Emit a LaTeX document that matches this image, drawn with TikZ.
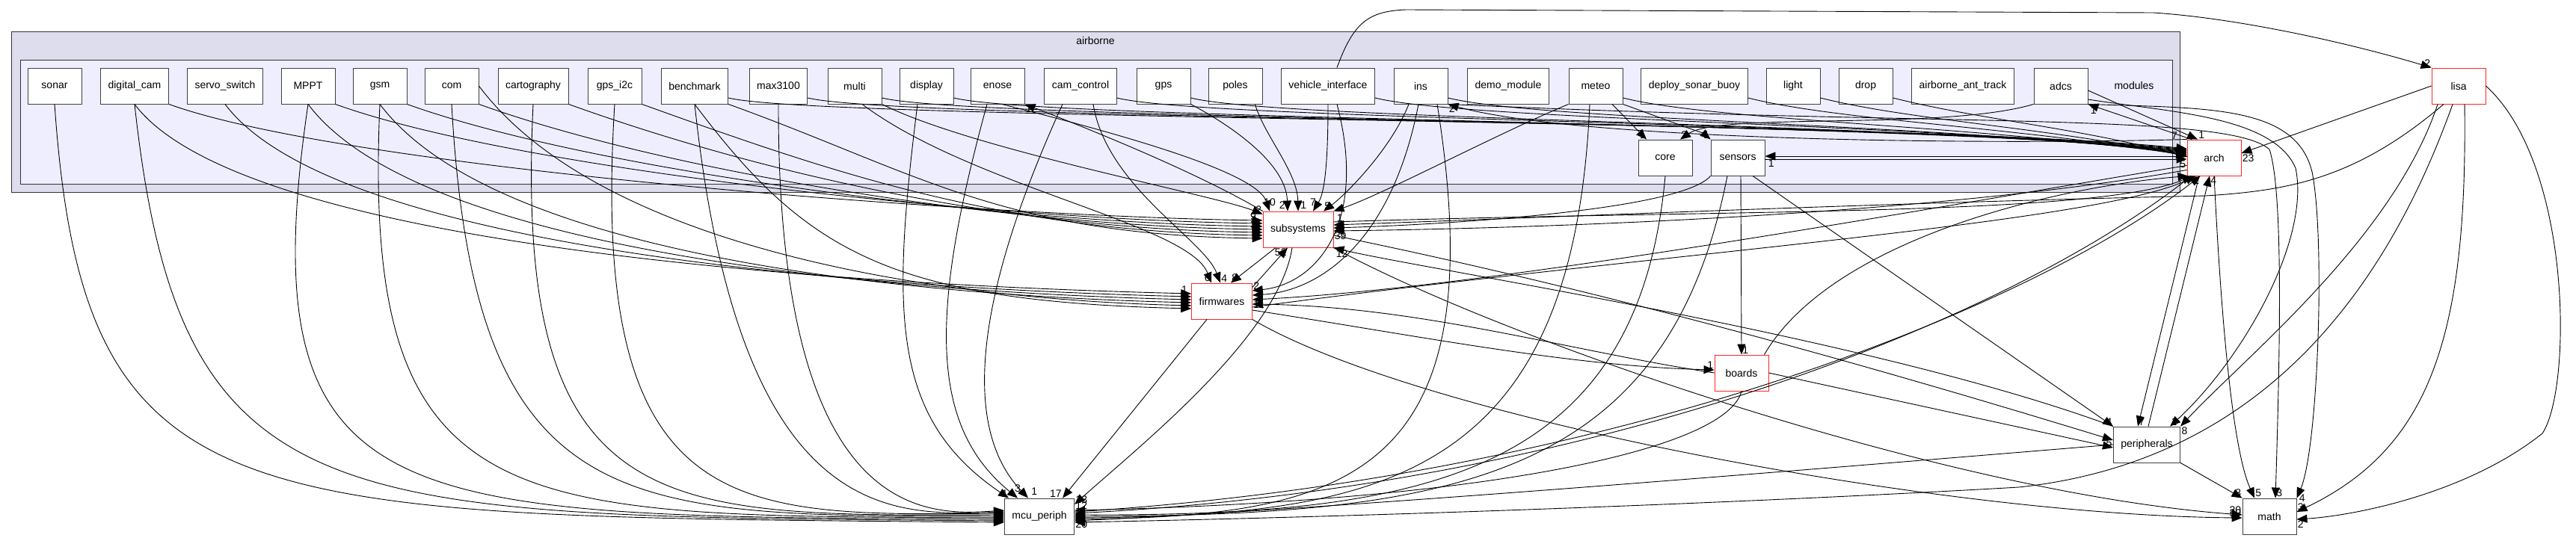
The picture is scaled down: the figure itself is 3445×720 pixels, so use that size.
\documentclass[tikz,border=0pt]{standalone}
\usepackage{fontspec}
\setmainfont{Liberation Sans}
\usetikzlibrary{arrows.meta}

\definecolor{outerfill}{HTML}{DDDDEE}
\definecolor{innerfill}{HTML}{EEEEFF}

\begin{document}
\begin{tikzpicture}[x=1pt,y=-1pt,
    dirbox/.style={draw=black!75,line width=0.9pt,fill=white,minimum width=72pt,
      minimum height=48pt,inner xsep=10pt,font=\fontsize{14}{16}\selectfont},
    redbox/.style={dirbox,draw=red!85},
    dep/.style={-{Triangle[length=14pt,width=11pt]},line width=0.9pt},
    lbl/.style={font=\fontsize{14}{16}\selectfont,inner sep=1pt}]
    \useasboundingbox (0,0) rectangle (3445,720);

    % clusters
    \draw[black!80,line width=1pt,fill=outerfill] (15,42) rectangle (2915,257);
    \node[lbl] (airborne) at (1465,54) {airborne};
    \draw[black!80,line width=1pt,fill=innerfill] (27,80) rectangle (2905,246);
    \node[lbl] (modules) at (2854,114) {modules};

    % module row
    \foreach \n/\x/\t in {sonar/73/sonar, digcam/180/digital\_cam, servo/301/servo\_switch,
        mppt/412/MPPT, gsm/508/gsm, com/604/com, carto/713/cartography, gpsi2c/822/gps\_i2c,
        bench/929/benchmark, max3100/1041/max3100, multi/1143/multi, display/1239/display,
        enose/1334/enose, camctl/1445/cam\_control, gps/1556/gps, poles/1652/poles,
        vehint/1776/vehicle\_interface, ins/1900/ins, demo/2017/demo\_module, meteo/2134/meteo,
        buoy/2266/deploy\_sonar\_buoy, light/2398/light, drop/2495/drop,
        anttrack/2625/airborne\_ant\_track, adcs/2756/adcs}
      \node[dirbox] (\n) at (\x,115) {\t};
    \node[dirbox] (core) at (2227,211) {core};
    \node[dirbox] (sensors) at (2324,211) {sensors};
    \node[redbox] (arch) at (2961,211) {arch};
    \node[redbox] (lisa) at (3288,115) {lisa};
    \node[redbox] (subsys) at (1736,307) {subsystems};
    \node[redbox] (firmw) at (1634,403) {firmwares};
    \node[redbox] (boards) at (2329,499) {boards};
    \node[dirbox] (periph) at (2871,595) {peripherals};
    \node[dirbox] (mcu) at (1390,691) {mcu\_periph};
    \node[dirbox] (math) at (3035,691) {math};

    % down the left side into mcu_periph
    \foreach \s/\v/\h in {sonar/112/-8pt, digcam/241/-6pt, mppt/330/-4pt, gsm/483/-2pt, com/635/0pt,
        carto/686/2pt, gpsi2c/787/4pt, bench/989/6pt, max3100/1040/8pt}
      \draw[dep] (\s.south) .. controls (\v,700) and (\v+200,690) .. ([yshift=\h]mcu.west);
    \draw[dep] ([xshift=-12pt]display.south) .. controls (1192,420) and (1192,560) .. ([xshift=6pt]mcu.north west) node[lbl,pos=1,above left]{1};
    \draw[dep] ([xshift=-14pt]enose.south) .. controls (1243,420) and (1243,570) .. ([xshift=18pt]mcu.north west) node[lbl,pos=1,above=6pt]{3};
    \draw[dep] ([xshift=-24pt]camctl.south) .. controls (1293,420) and (1293,580) .. ([xshift=32pt]mcu.north west) node[lbl,pos=1,above right=3pt]{1};
    \draw[dep] ([xshift=-20pt]firmw.south) -- ([xshift=-16pt]mcu.north east) node[lbl,pos=1,above left]{17};
    \draw[dep] ([xshift=-8pt]subsys.south) .. controls (1710,450) and (1520,600) .. ([yshift=16pt]mcu.east) node[lbl,pos=1,above right]{13};

    % into mcu_periph from the right
    \draw[dep] (boards.south) .. controls (2310,600) and (2000,670) .. ([yshift=8pt]mcu.east) node[lbl,pos=1,above right]{12};
    \draw[dep] (core.south) .. controls (2190,640) and (1900,690) .. ([yshift=2pt]mcu.east);
    \draw[dep] ([xshift=-14pt]sensors.south) .. controls (2230,640) and (1950,690) .. (mcu.east);
    \draw[dep] ([xshift=-8pt]meteo.south) .. controls (2104,640) and (1850,690) .. ([yshift=-2pt]mcu.east);
    \draw[dep] ([xshift=22pt]ins.south) .. controls (2002,640) and (1800,690) .. ([yshift=-4pt]mcu.east) node[lbl,pos=1,below right]{20};
    \draw[dep] (periph.west) .. controls (2400,630) and (1800,680) .. ([yshift=-6pt]mcu.east);
    \draw[dep] ([xshift=-8pt]lisa.south) .. controls (3180,420) and (3000,620) .. (2700,652) .. controls (2300,675) and (1800,692) .. ([yshift=-8pt]mcu.east);
    \draw[dep] ([xshift=6pt]arch.south west) .. controls (2700,420) and (2150,650) .. ([yshift=4pt]mcu.east);
    \draw[dep] ([yshift=6pt]mcu.east) .. controls (2160,640) and (2720,410) .. ([xshift=18pt]arch.south west) node[lbl,pos=1,below left]{1};

    % row into subsystems
    \foreach \s/\h in {digcam/12pt, mppt/8pt, gsm/4pt, com/0pt, carto/-4pt, gpsi2c/-8pt, bench/-12pt}
      \draw[dep] (\s.south east) .. controls +(250,90) and +(-350,-5) .. ([yshift=\h]subsys.west);
    \node[lbl] (lab9) at (1676,290) {9};
    \node[lbl] (lab3) at (1676,301) {3};
    \draw[dep] ([xshift=6pt]enose.south) .. controls (1500,180) and (1680,230) .. ([xshift=-38pt]subsys.north) node[lbl,pos=1,above=5pt]{10};
    \draw[dep] (subsys.north west) .. controls (1600,230) and (1450,170) .. (enose.south east) node[lbl,pos=1,below right]{1};
    \draw[dep] (multi.south east) .. controls (1300,200) and (1620,260) .. ([yshift=-4pt]subsys.north west) node[lbl,pos=1,above left]{2};
    \draw[dep] (gps.south east) .. controls (1650,170) and (1720,220) .. ([xshift=-14pt]subsys.north) node[lbl,pos=1,above left=2pt]{2};
    \draw[dep] ([xshift=-10pt]poles.south east) .. controls (1690,180) and (1735,230) .. (subsys.north) node[lbl,pos=1,above right=2pt]{1};
    \draw[dep] (vehint.south) .. controls (1776,230) and (1770,260) .. ([xshift=20pt]subsys.north) node[lbl,pos=1,above=6pt]{7};
    \draw[dep] ([xshift=-16pt]ins.south) .. controls (1860,200) and (1800,260) .. ([xshift=34pt]subsys.north) node[lbl,pos=1,above right]{5};
    \draw[dep] (meteo.south west) .. controls (2000,180) and (1850,260) .. (subsys.north east) node[lbl,pos=1,below right=3pt]{1};
    \draw[dep] ([yshift=-6pt]firmw.north east) -- ([xshift=-14pt]subsys.south) node[lbl,pos=1,below left]{52};
    \draw[dep] ([xshift=-30pt]subsys.south) -- ([xshift=12pt]firmw.north) node[lbl,pos=1,above right]{8};
    \draw[dep] (periph.north west) .. controls (2500,450) and (1900,360) .. (subsys.south east) node[lbl,pos=1,below right=2pt]{12};
    \draw[dep] ([yshift=8pt]arch.south west) .. controls (2600,285) and (2100,305) .. ([yshift=-2pt]subsys.east) node[lbl,pos=1,below right]{39};
    \draw[dep] (sensors.south west) .. controls (2250,280) and (1950,300) .. ([yshift=2pt]subsys.east);
    \draw[dep] ([xshift=-20pt]lisa.south) .. controls (3150,240) and (3060,255) .. (2950,262) .. controls (2500,272) and (2100,290) .. ([yshift=6pt]subsys.east);

    % row into firmwares
    \foreach \s/\h in {digcam.south/10pt, servo.south/6pt, mppt.south/2pt, gsm.south/-2pt, com.east/-6pt, bench.south/-10pt}
      \draw[dep] (\s) .. controls +(150,200) and +(-400,-10) .. ([yshift=\h]firmw.west);
    \node[lbl] (lab1) at (1584,388) {1};
    \draw[dep] ([xshift=10pt]multi.south) .. controls (1300,250) and (1590,300) .. ([xshift=-14pt]firmw.north) node[lbl,pos=1,above left]{6};
    \draw[dep] ([xshift=17pt]camctl.south) .. controls (1480,250) and (1610,320) .. ([xshift=-2pt]firmw.north) node[lbl,pos=1,above right]{4};
    \draw[dep] ([xshift=12pt]vehint.south) .. controls (1830,300) and (1760,380) .. ([yshift=14pt]firmw.east) node[lbl,pos=1,above right]{2};
    \draw[dep] ([xshift=-3pt]ins.south) .. controls (1860,330) and (1760,390) .. ([yshift=8pt]firmw.east);
    \draw[dep] ([yshift=14pt]arch.south west) .. controls (2600,275) and (2000,385) .. ([yshift=2pt]firmw.east) node[lbl,pos=1,below right]{11};
    \draw[dep] (boards.west) .. controls (2100,470) and (1900,410) .. ([yshift=-4pt]firmw.east);
    \draw[dep] ([yshift=-12pt]firmw.east) .. controls (1900,450) and (2100,490) .. ([yshift=4pt]boards.west) node[lbl,pos=1,above left]{1};

    % into arch
    \foreach \s/\d/\h in {bench/-400/12pt, max3100/-400/11pt, multi/-400/10pt, display/-400/9pt,
        camctl/-380/8pt, gps/-360/7pt, vehint/-340/6pt, ins/-320/5pt, meteo/-300/4pt,
        buoy/-250/3pt, light/-200/2pt, drop/-150/1pt}
      \draw[dep] ([yshift=-16pt]\s.east) .. controls +(120,30) and +(\d,-40) .. ([yshift=\h]arch.west);
    \node[lbl] (lab7) at (2908,182) {7};
    \draw[dep] ([yshift=-2pt]sensors.east) -- ([yshift=-2pt]arch.west) node[lbl,pos=1,below left]{5};
    \draw[dep] ([yshift=2pt]arch.west) -- ([yshift=2pt]sensors.east) node[lbl,pos=1,below right=3pt]{1};
    \draw[dep] ([yshift=-6pt]adcs.east) -- ([xshift=-22pt]arch.north) node[lbl,pos=1,above right]{1};
    \draw[dep] ([xshift=-30pt]arch.north) -- (adcs.south east) node[lbl,pos=1,below right=2pt]{1};
    \draw[dep] (arch.north west) .. controls (2600,195) and (2100,185) .. (ins.south east) node[lbl,pos=1,below right]{2};
    \draw[dep] (lisa.west) -- ([yshift=6pt]arch.east) node[lbl,pos=1,below right]{23};
    \draw[dep] ([xshift=-6pt]boards.north east) .. controls (2450,320) and (2750,250) .. ([xshift=2pt]arch.south west);
    \draw[dep] ([yshift=10pt]subsys.east) .. controls (2300,280) and (2800,290) .. ([xshift=8pt]arch.south west);
    \draw[dep] ([yshift=-8pt]firmw.east) .. controls (2200,340) and (2800,300) .. ([xshift=12pt]arch.south west);
    \draw[dep] ([xshift=-20pt]arch.south) -- ([xshift=-12pt]periph.north) node[lbl,pos=1,above right]{7};
    \draw[dep] ([xshift=2pt]periph.north) -- ([xshift=-6pt]arch.south) node[lbl,pos=1,below right]{4};

    % core and sensors
    \draw[dep] ([xshift=22pt]meteo.south) -- ([xshift=-25pt]core.north) node[lbl,pos=1,above left]{1};
    \draw[dep] (meteo.south east) .. controls (2200,150) and (2280,180) .. (sensors.north west) node[lbl,pos=1,above left]{1};
    \draw[dep] (adcs.south west) .. controls (2600,175) and (2300,150) .. ([xshift=20pt]core.north) node[lbl,pos=1,above right]{2};
    \draw[dep] ([xshift=4pt]sensors.south) -- (boards.north) node[lbl,pos=1,above right]{1};
    \draw[dep] ([xshift=20pt]sensors.south) -- (periph.north west) node[lbl,pos=1,above left]{4};

    % peripherals, boards, math
    \draw[dep] (boards.east) -- ([yshift=-4pt]periph.west) node[lbl,pos=1,above left]{5};
    \draw[dep] ([yshift=-8pt]subsys.east) .. controls (2200,400) and (2600,520) .. ([yshift=6pt]periph.west);
    \draw[dep] (periph.south east) -- (math.north west) node[lbl,pos=1,above left]{3};
    \draw[dep] (subsys.south east) .. controls (2000,450) and (2600,660) .. ([yshift=2pt]math.west) node[lbl,pos=1,above left]{20};
    \draw[dep] (firmw.south east) .. controls (1900,560) and (2600,690) .. ([yshift=-2pt]math.west) node[lbl,pos=1,above left]{30};
    \draw[dep] (arch.south) .. controls (2970,420) and (2985,600) .. ([xshift=-20pt]math.north) node[lbl,pos=1,above right]{5};
    \draw[dep] (ins.south east) .. controls (2600,170) and (2980,150) .. (3035,200) .. controls (3055,260) and (3048,500) .. ([xshift=8pt]math.north) node[lbl,pos=1,above right]{3};
    \draw[dep] (adcs.south east) .. controls (2950,145) and (3070,140) .. (3092,230) .. controls (3110,320) and (3100,600) .. (math.north east) node[lbl,pos=1,right=2pt]{4};
    \draw[dep] ([yshift=-18pt]adcs.east) .. controls (2900,150) and (3040,155) .. (3070,225) .. controls (3090,320) and (3000,480) .. ([xshift=-14pt]periph.north east) node[lbl,pos=1,above right]{1};

    % lisa
    \draw[dep] ([xshift=12pt]vehint.north) .. controls (1810,30) and (1830,15) .. (1880,13) -- (2880,17) .. controls (3000,25) and (3150,60) .. (lisa.north west) node[lbl,pos=1,above left]{2};
    \draw[dep] ([xshift=-28pt]lisa.south) .. controls (3200,320) and (3000,480) .. (periph.north east) node[lbl,pos=1,below right]{8};
    \draw[dep] ([xshift=8pt]lisa.south) .. controls (3300,450) and (3250,600) .. ([yshift=6pt]math.east) node[lbl,pos=1,above right]{3};
    \draw[dep] (lisa.east) .. controls (3440,220) and (3440,520) .. (3400,580) .. controls (3300,660) and (3150,690) .. ([yshift=-4pt]math.east) node[lbl,pos=1,below right]{2};
\end{tikzpicture}
\end{document}
